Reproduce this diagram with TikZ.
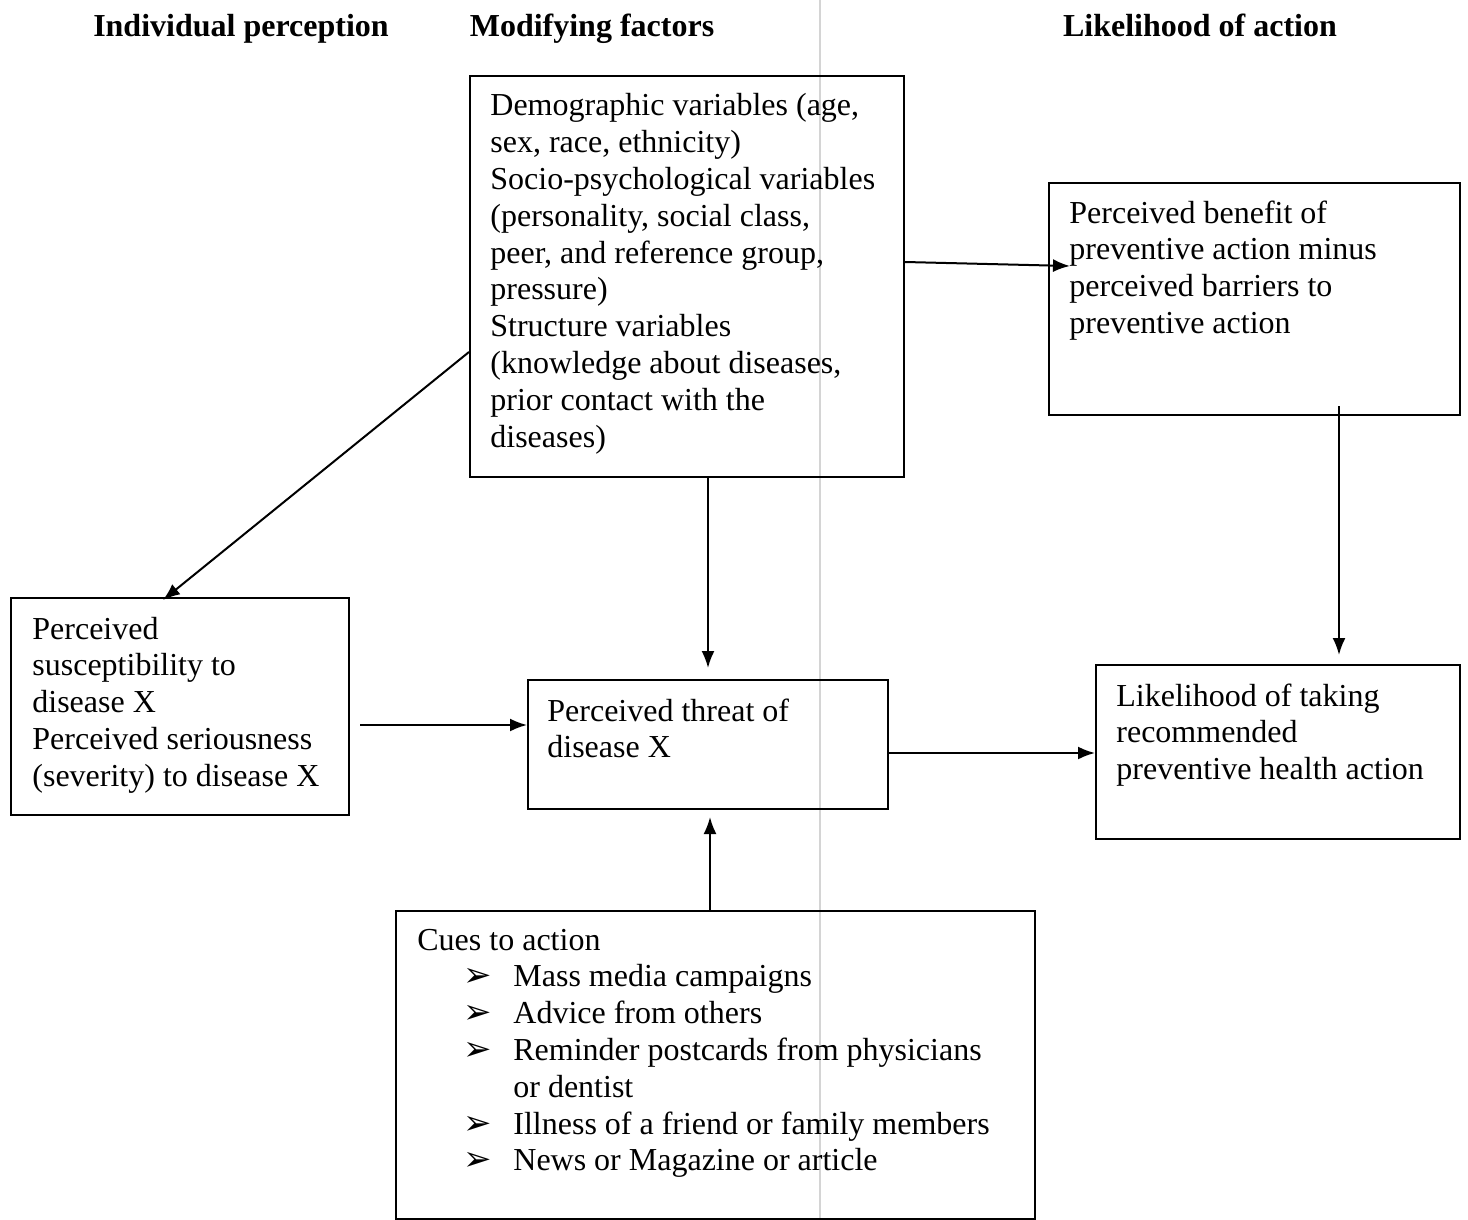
\documentclass[tikz,border=0pt]{standalone}
\usepackage{fontspec}
\setmainfont{Liberation Serif}
\newfontfamily\symfont{DejaVu Sans}
\usetikzlibrary{arrows.meta,calc}
\newcommand{\bodyfont}{\fontsize{16pt}{18.4pt}\selectfont}
\newcommand{\cuebullet}{\makebox[48pt][l]{\hspace*{23pt}{\symfont\fontsize{17pt}{14pt}\selectfont ➢}}}
\begin{document}
\begin{tikzpicture}[x=0.5pt,y=-0.5pt,
  box/.style={draw, line width=1pt, inner sep=0pt, anchor=north west},
  txt/.style={anchor=base west, inner sep=0pt, font=\bodyfont},
  head/.style={anchor=base, inner sep=0pt, font=\bodyfont\bfseries},
  conn/.style={line width=1pt, -{Latex[length=8.5pt,width=6.5pt]}}]
\useasboundingbox (0,0) rectangle (1468,1220);
% scan line
\draw[black!17, line width=0.6pt] (820,0) -- (820,1220);
% headers
\node[head] (h1) at (241,37) {Individual perception};
\node[head] (h2) at (592,37) {Modifying factors};
\node[head] (h3) at (1200,37) {Likelihood of action};
% boxes
\node[box, minimum width=217pt, minimum height=200.5pt] (A) at (469,75) {};
\node[box, minimum width=205.5pt, minimum height=116pt] (B) at (1048,182) {};
\node[box, minimum width=169pt, minimum height=108.5pt] (C) at (10,597) {};
\node[box, minimum width=180pt, minimum height=64.5pt] (D) at (527,679) {};
\node[box, minimum width=182pt, minimum height=87pt] (E) at (1095,664) {};
\node[box, minimum width=319.5pt, minimum height=154pt] (F) at (395,910) {};
% texts
\node[txt] (At) at (490,116) {\parbox[t]{205pt}{\bodyfont
Demographic variables (age,\\
sex, race, ethnicity)\\
Socio-psychological variables\\
(personality, social class,\\
peer, and reference group,\\
pressure)\\
Structure variables\\
(knowledge about diseases,\\
prior contact with the\\
diseases)}};
\node[txt] (Bt) at (1069,223) {\parbox[t]{195pt}{\bodyfont
Perceived benefit of\\
preventive action minus\\
perceived barriers to\\
preventive action}};
\node[txt] (Ct) at (32,639) {\parbox[t]{160pt}{\bodyfont
Perceived\\
susceptibility to\\
disease X\\
Perceived seriousness\\
(severity) to disease X}};
\node[txt] (Dt) at (547,721) {\parbox[t]{170pt}{\bodyfont
Perceived threat of\\
disease X}};
\node[txt] (Et) at (1116,706) {\parbox[t]{172pt}{\bodyfont
Likelihood of taking\\
recommended\\
preventive health action}};
\node[txt] (Ft) at (417,950) {\parbox[t]{300pt}{\bodyfont
Cues to action\\
\cuebullet Mass media campaigns\\
\cuebullet Advice from others\\
\cuebullet Reminder postcards from physicians\\
\hspace*{48pt}or dentist\\
\cuebullet Illness of a friend or family members\\
\cuebullet News or Magazine or article}};
% connectors
\draw[conn] (A.west |- 0,352) -- ($(C.north west)+(153,3)$);
\draw[conn] (A.east |- 0,262) -- ($(B.west |- 0,266)+(22,0)$);
\draw[conn] (A.south -| 708,0) -- ($(D.north -| 708,0)+(0,-11)$);
\draw[conn] ($(C.east |- 0,725)+(10,0)$) -- (D.west |- 0,725);
\draw[conn] (D.east |- 0,753) -- (E.west |- 0,753);
\draw[conn] ($(B.south -| 1339,0)+(0,-10)$) -- ($(E.north -| 1339,0)+(0,-9)$);
\draw[conn] (F.north -| 710,0) -- ($(D.south -| 710,0)+(0,7)$);
\end{tikzpicture}
\end{document}
